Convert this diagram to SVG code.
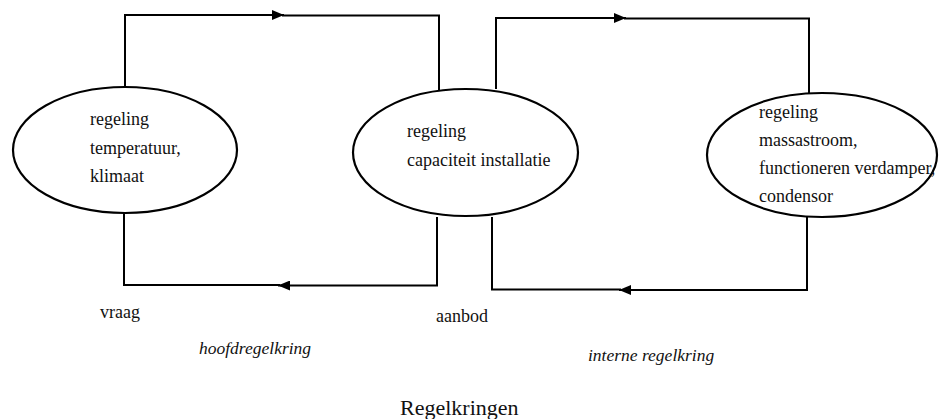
<svg xmlns="http://www.w3.org/2000/svg" width="939" height="419" viewBox="0 0 939 419" font-family="'Liberation Serif', 'DejaVu Serif', serif">
<style>
.ln{fill:none;stroke:#000;stroke-width:2}
.el{fill:#fff;stroke:#000;stroke-width:2.2}
.tx{font-family:'Liberation Serif','DejaVu Serif',serif;fill:#111;font-size:18px}
.it{font-style:italic;font-size:17.5px}
.title{font-size:22px}
</style>
<defs>
<marker id="ah" markerUnits="userSpaceOnUse" markerWidth="12" markerHeight="10" refX="12" refY="5" orient="auto">
<path d="M0,0 L12,5 L0,10 z" fill="#000"/>
</marker>
</defs>
<g id="connectors">
<path class="ln" d="M125,87 V15 H284" marker-end="url(#ah)"/>
<path class="ln" d="M282,15.5 H439 V90"/>
<path class="ln" d="M437,217 V285.5 H278" marker-end="url(#ah)"/>
<path class="ln" d="M280,285 H124 V212"/>
<path class="ln" d="M496,89 V18 H626" marker-end="url(#ah)"/>
<path class="ln" d="M624,18.5 H809 V93"/>
<path class="ln" d="M807,217 V290 H619" marker-end="url(#ah)"/>
<path class="ln" d="M621,289.5 H492 V217"/>
</g>
<g id="node-klimaat">
<ellipse class="el" cx="125" cy="150" rx="112" ry="63"/>
<text class="tx" x="90" y="125">regeling</text>
<text class="tx" x="90" y="154">temperatuur,</text>
<text class="tx" x="90" y="182">klimaat</text>
</g>
<g id="node-capaciteit">
<ellipse class="el" cx="465.5" cy="152.5" rx="112.5" ry="63.5"/>
<text class="tx" x="407" y="137">regeling</text>
<text class="tx" x="407" y="166">capaciteit installatie</text>
</g>
<g id="node-massastroom">
<ellipse class="el" cx="822" cy="155" rx="115" ry="62"/>
<text class="tx" x="759" y="118">regeling</text>
<text class="tx" x="759" y="146">massastroom,</text>
<text class="tx" x="759" y="174">functioneren verdamper,</text>
<text class="tx" x="759" y="202">condensor</text>
</g>
<g id="labels">
<text class="tx" x="100" y="318">vraag</text>
<text class="tx" x="436" y="322">aanbod</text>
<text class="tx it" x="199" y="354">hoofdregelkring</text>
<text class="tx it" x="588" y="361">interne regelkring</text>
<text class="tx title" x="400" y="415">Regelkringen</text>
</g>
</svg>
